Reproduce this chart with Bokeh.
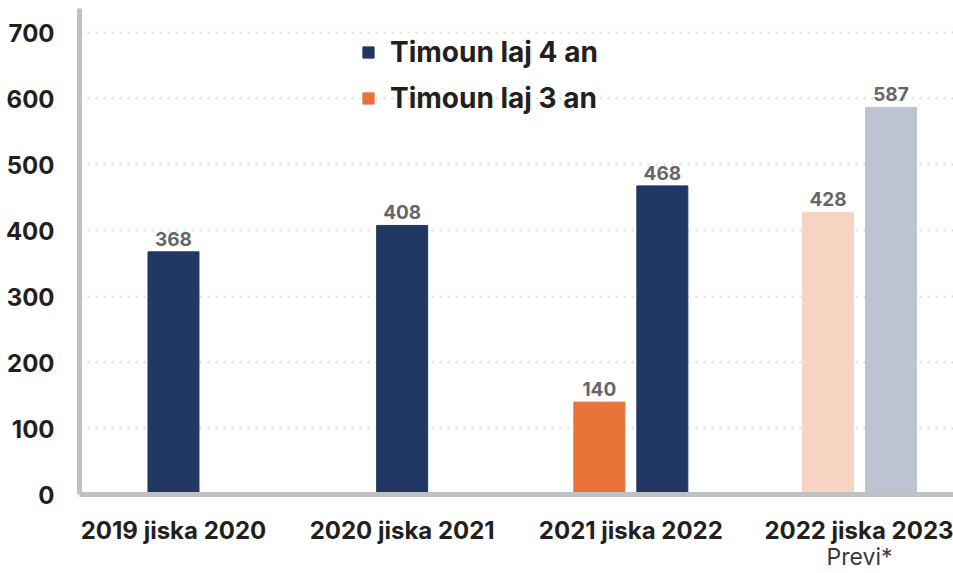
from bokeh.plotting import figure
from bokeh.models import FixedTicker, Legend, LegendItem, LinearAxis, Range1d
from bokeh.core.properties import value
from bokeh.embed import file_html
from bokeh.resources import INLINE

# ---- data ----
categories = ["2019 jiska 2020", "2020 jiska 2021", "2021 jiska 2022", "2022 jiska 2023"]
forecast_note = ["", "", "", "Previ*"]
kids_4 = [368, 408, 468, None]          # Timoun laj 4 an
kids_3 = [None, None, 140, None]        # Timoun laj 3 an
forecast_4 = [None, None, None, 587]    # forecast, 4 yr
forecast_3 = [None, None, None, 428]    # forecast, 3 yr
y_ticks = [0, 100, 200, 300, 400, 500, 600, 700]
legend_4 = "Timoun laj 4 an"
legend_3 = "Timoun laj 3 an"

# ---- styling ----
FONT = "Inter"
NAVY = "#213864"
ORANGE = "#e87238"
PEACH = "#f7d4c1"
GREYBLUE = "#bdc3d0"
AXIS = "#c0c1c5"
TEXT = "#231f20"
BAR_W = 0.223
OFF = 0.1377

def positions(series_a, series_b, side):
    xs, ys = [], []
    for i, v in enumerate(series_a):
        if v is None:
            continue
        if series_b[i] is None:
            xs.append(i)
        else:
            xs.append(i + side * OFF)
        ys.append(v)
    return xs, ys

any3 = [a if a is not None else b for a, b in zip(kids_3, forecast_3)]
any4 = [a if a is not None else b for a, b in zip(kids_4, forecast_4)]

x4, y4 = positions(kids_4, any3, +1)
x3, y3 = positions(kids_3, any4, -1)
xf4, yf4 = positions(forecast_4, any3, +1)
xf3, yf3 = positions(forecast_3, any4, -1)

p = figure(width=953, height=573,
           x_range=Range1d(-0.411, 3.411), y_range=Range1d(0, 737),
           output_backend="svg", toolbar_location=None,
           min_border_left=79, min_border_right=0, min_border_top=8, min_border_bottom=79)
p.outline_line_color = None
p.background_fill_color = "white"
p.border_fill_color = "white"

r4 = p.vbar(x=x4, top=y4, width=BAR_W, color=NAVY)
r3 = p.vbar(x=x3, top=y3, width=BAR_W, color=ORANGE)
p.vbar(x=xf4, top=yf4, width=BAR_W, color=GREYBLUE)
p.vbar(x=xf3, top=yf3, width=BAR_W, color=PEACH)

lx = x4 + x3 + xf4 + xf3
ly = y4 + y3 + yf4 + yf3
p.text(x=lx, y=ly, text=[str(v) for v in ly], y_offset=-6,
       text_align="center", text_baseline="bottom",
       text_font=value(FONT), text_font_style="bold",
       text_font_size="19px", text_color="#666666")

# grid
p.xgrid.visible = False
p.ygrid.grid_line_color = "#d9d9d9"
p.ygrid.grid_line_width = 2
p.ygrid.grid_line_dash = "2 6"

# axes
for ax in (p.xaxis[0], p.yaxis[0]):
    ax.axis_line_color = AXIS
    ax.axis_line_width = 5
    ax.major_tick_line_color = None
    ax.minor_tick_line_color = None
    ax.major_label_text_font = FONT
    ax.major_label_text_font_style = "bold"
    ax.major_label_text_color = TEXT

p.yaxis.ticker = FixedTicker(ticks=y_ticks)
p.yaxis.major_label_text_font_size = "24px"
p.yaxis.major_label_standoff = 19

p.xaxis.ticker = FixedTicker(ticks=list(range(len(categories))))
p.xaxis.major_label_overrides = {i: c for i, c in enumerate(categories)}
p.xaxis.major_label_text_font_size = "24px"
p.xaxis.major_label_standoff = 15

# second row of category labels (forecast note)
note_ticks = [i for i, n in enumerate(forecast_note) if n]
note_axis = LinearAxis(ticker=FixedTicker(ticks=note_ticks),
                       major_label_overrides={i: forecast_note[i] for i in note_ticks},
                       axis_line_color=None, major_tick_line_color=None,
                       minor_tick_line_color=None, major_label_standoff=-11,
                       major_label_text_font=FONT, major_label_text_font_size="23px",
                       major_label_text_font_style="normal",
                       major_label_text_color="#3a3a3a")
p.add_layout(note_axis, "below")

legend = Legend(items=[LegendItem(label=legend_4, renderers=[r4]),
                       LegendItem(label=legend_3, renderers=[r3])],
                location=(282, 379), orientation="vertical",
                glyph_width=14, glyph_height=14, label_standoff=15,
                label_text_font=FONT, label_text_font_style="bold",
                label_text_font_size="28px", label_text_color=TEXT,
                label_height=30, spacing=12, padding=0, margin=0,
                border_line_color=None, background_fill_alpha=0)
p.add_layout(legend)

open("out.html", "w").write(file_html(p, INLINE))
